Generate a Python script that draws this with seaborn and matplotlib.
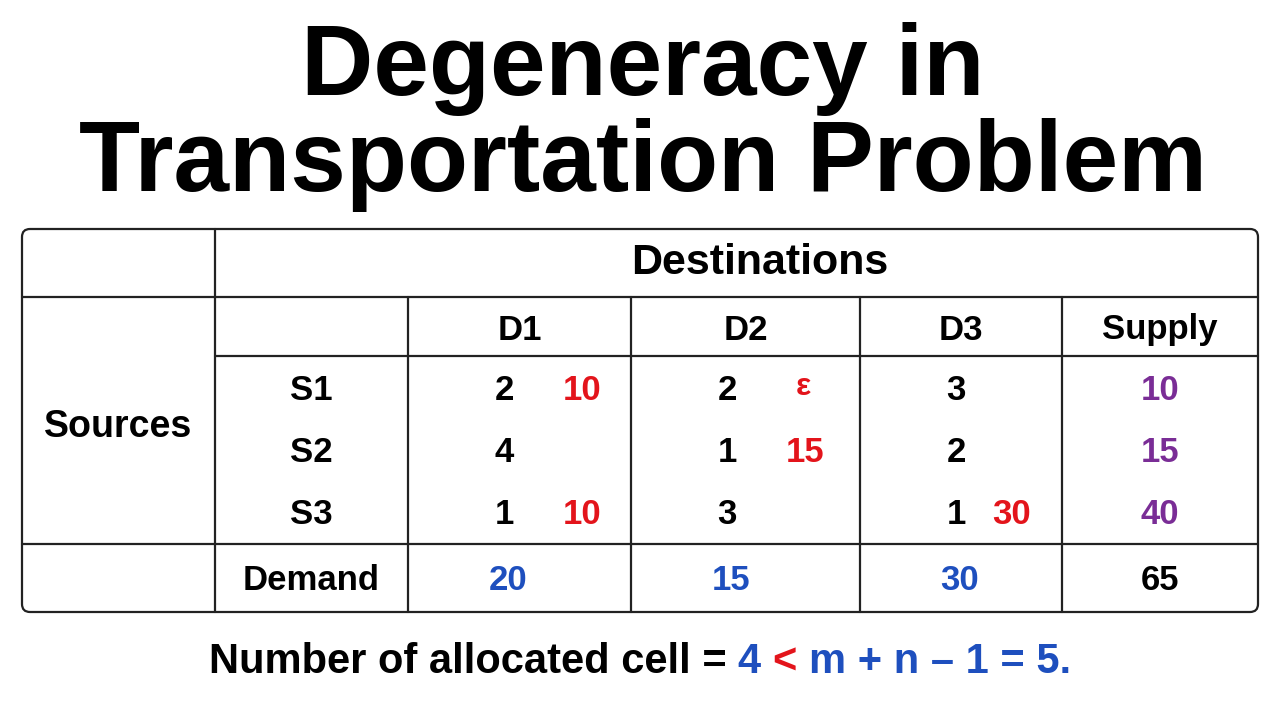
import matplotlib
matplotlib.use("Agg")
import matplotlib.pyplot as plt
import seaborn as sns
from matplotlib.patches import FancyBboxPatch
from matplotlib.offsetbox import TextArea, HPacker, AnchoredOffsetbox

sns.set_theme(style="white")
plt.rcParams['font.family'] = ['Liberation Sans', 'DejaVu Sans']
plt.rcParams['text.color'] = "black"

RED = "#e3141b"
PURPLE = "#7a2d96"
BLUE = "#1e4fbe"

title = "Degeneracy in\nTransportation Problem"
destinations = ["D1", "D2", "D3"]
sources = ["S1", "S2", "S3"]
costs = [[2, 2, 3], [4, 1, 2], [1, 3, 1]]
alloc = [["10", "ε", ""], ["", "15", ""], ["10", "", "30"]]
supply = [10, 15, 40]
demand = [20, 15, 30]
total = 65

# layout (pixels)
col_edges = [22, 215, 408, 631, 860, 1062, 1258]
row_y = {"dest": 263, "head": 330, "S1": 390, "S2": 453, "S3": 515, "dem": 580}
top, h1, h2, h3, bot = 229, 297, 356, 544, 612

fig = plt.figure(figsize=(12.8, 7.2), dpi=100)
ax = fig.add_axes([0, 0, 1, 1])
ax.set_xlim(0, 1280)
ax.set_ylim(720, 0)
ax.axis("off")

ax.text(643, 117, title, ha="center", va="center", fontsize=72, fontweight="bold",
        linespacing=1.02, color="black")

ax.add_patch(FancyBboxPatch((col_edges[0], top), col_edges[-1] - col_edges[0], bot - top,
                            boxstyle="round,pad=0,rounding_size=8", fill=False,
                            lw=1.6, ec="#222222"))
lk = dict(color="#222222", lw=1.6)
ax.plot([col_edges[0], col_edges[-1]], [h1, h1], **lk)
ax.plot([col_edges[1], col_edges[-1]], [h2, h2], **lk)
ax.plot([col_edges[0], col_edges[-1]], [h3, h3], **lk)
ax.plot([col_edges[1], col_edges[1]], [top, bot], **lk)
for x in col_edges[2:-1]:
    ax.plot([x, x], [h1, bot], **lk)

fs = 25
tk = dict(fontsize=fs, fontweight="bold", va="center")
centers = [(col_edges[i] + col_edges[i + 1]) / 2 for i in range(len(col_edges) - 1)]

ax.text(760, row_y["dest"], "Destinations", ha="center", color="black",
        fontsize=31, fontweight="bold", va="center")
ax.text(118, 427, "Sources", ha="center", color="black",
        fontsize=27, fontweight="bold", va="center")
for j, d in enumerate(destinations):
    ax.text(centers[j + 2], row_y["head"], d, ha="center", color="black", **tk)
ax.text(centers[5], row_y["head"], "Supply", ha="center", color="black", **tk)

for i, s in enumerate(sources):
    y = row_y[s]
    ax.text(centers[1], y, s, ha="center", color="black", **tk)
    for j in range(3):
        left = col_edges[j + 2]
        ax.text(left + 96, y, str(costs[i][j]), ha="center", color="black", **tk)
        a = alloc[i][j]
        if a == "ε":
            ax.text(left + 172, y - 3, a, ha="center", color=RED,
                    fontsize=23, fontweight="bold", va="center")
        elif a:
            off = 152 if j == 2 else 174
            ax.text(left + off, y, a, ha="center", color=RED, **tk)
    ax.text(centers[5], y, str(supply[i]), ha="center", color=PURPLE, **tk)

ax.text(centers[1], row_y["dem"], "Demand", ha="center", color="black", **tk)
for j, v in enumerate(demand):
    ax.text(col_edges[j + 2] + 100, row_y["dem"], str(v), ha="center", color=BLUE, **tk)
ax.text(centers[5], row_y["dem"], str(total), ha="center", color="black", **tk)

pieces = [("Number of allocated cell = ", "black"), ("4 ", BLUE), ("< ", RED),
          ("m + n \u2013 1 = 5.", BLUE)]
boxes = [TextArea(t, textprops=dict(color=c, fontsize=30, fontweight="bold")) for t, c in pieces]
pack = HPacker(children=boxes, pad=0, sep=0, align="baseline")
anch = AnchoredOffsetbox(loc="center", child=pack, frameon=False,
                         bbox_to_anchor=(0.5, 1 - 662 / 720), bbox_transform=fig.transFigure)
ax.add_artist(anch)

fig.savefig("out.png", dpi=100, facecolor="white")
